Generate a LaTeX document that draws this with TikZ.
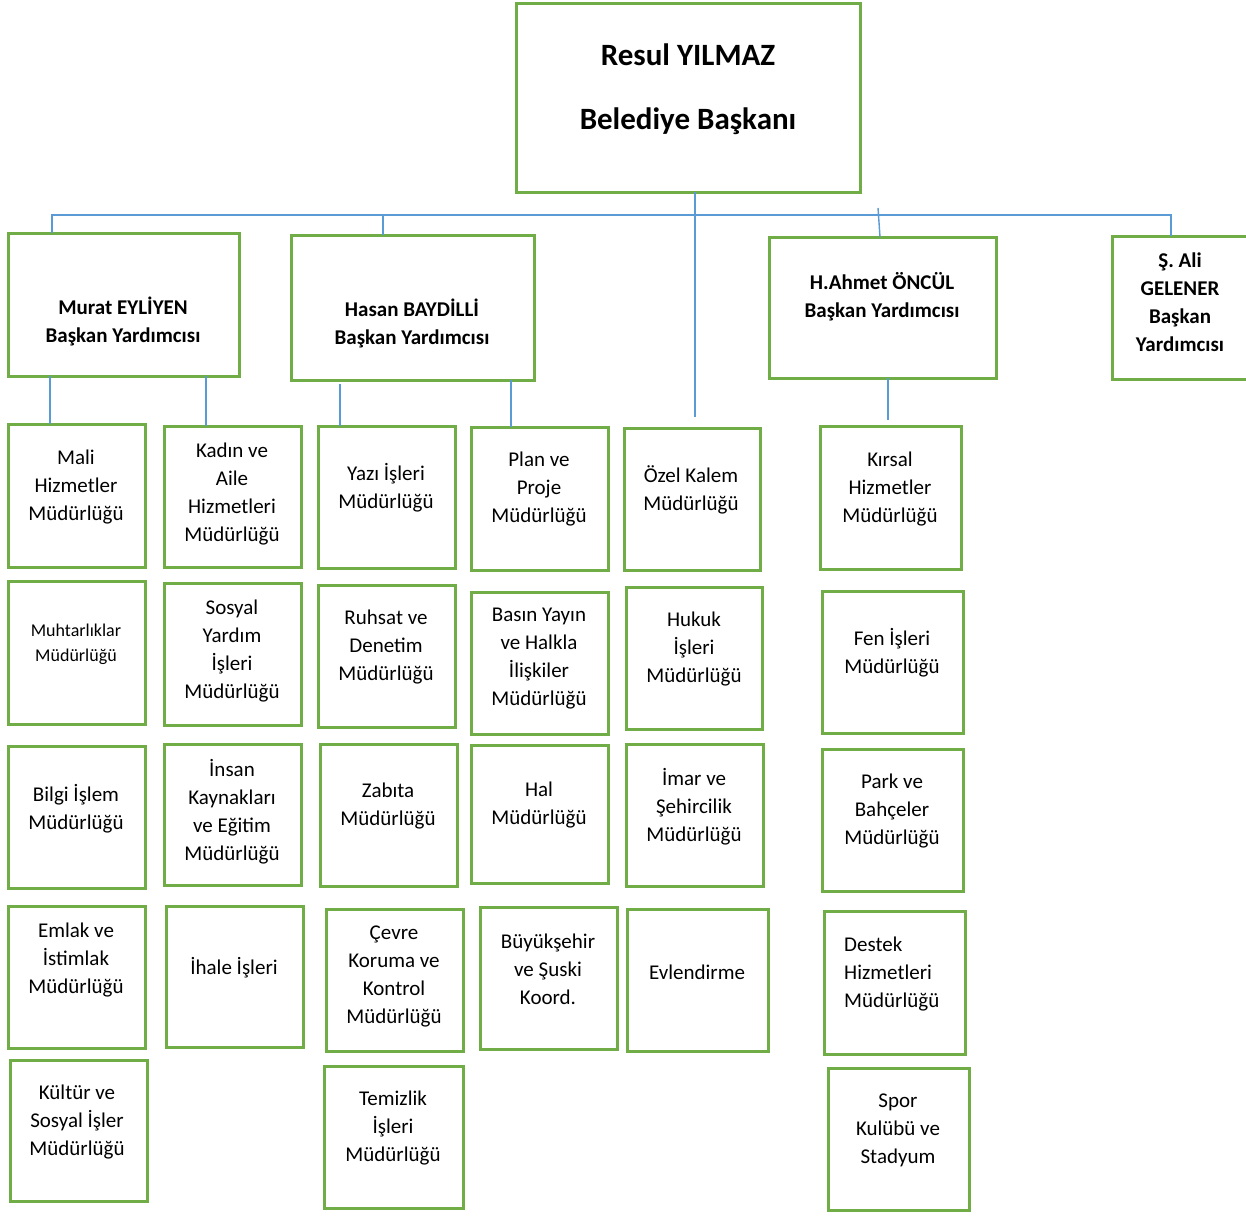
\documentclass[tikz,border=0pt]{standalone}
\usepackage{fontspec}
\setmainfont{Carlito}
\definecolor{boxgreen}{RGB}{112,173,71}
\definecolor{linkblue}{RGB}{91,155,213}
\tikzset{
  ubox/.style={draw=boxgreen, line width=3pt, fill=white, inner sep=0pt, outer sep=0pt},
  txt/.style={align=center, inner sep=0pt, yshift=-3pt, font=\fontsize{21}{28}\selectfont},
  btxt/.style={align=center, inner sep=0pt, yshift=-2pt, font=\fontsize{21}{28}\selectfont\bfseries},
  conn/.style={draw=linkblue, line width=1.4pt}
}
\newcommand\ubx[8]{%
  \node[ubox, minimum width={(#4)-(#2)}, minimum height={(#5)-(#3)}] (#1) at ({((#2)+(#4))/2},{((#3)+(#5))/2}) {};
  \node[txt] (#1t) at (#6,#7) {#8};
}
\newcommand\bbx[8]{%
  \node[ubox, minimum width={(#4)-(#2)}, minimum height={(#5)-(#3)}] (#1) at ({((#2)+(#4))/2},{((#3)+(#5))/2}) {};
  \node[btxt] (#1t) at (#6,#7) {#8};
}
\begin{document}
\begin{tikzpicture}[x=1pt,y=-1pt]
\useasboundingbox[fill=white] (0,0) rectangle (1246,1215);

\coordinate (hl) at (52,215);
\coordinate (hr) at (1171,215);
\coordinate (ctop) at (695,192);
\coordinate (cend) at (695,417);
\coordinate (ahs) at (878,208);
\coordinate (yzs) at (340,384);

% top
\node[ubox, minimum width=344, minimum height=188] (top) at (688,98) {};
\node[align=center, inner sep=0pt, font=\fontsize{31}{64}\selectfont\bfseries] (topt) at (688,89) {Resul YILMAZ\\Belediye Başkanı};

% vice presidents
\bbx{murat}{8}{233}{239}{376}{123}{319}{Murat EYLİYEN\\Başkan Yardımcısı}
\bbx{hasan}{291}{235}{534}{380}{412}{321}{Hasan BAYDİLLİ\\Başkan Yardımcısı}
\bbx{ahmet}{769}{237}{996}{378}{882}{295}{H.Ahmet ÖNCÜL\\Başkan Yardımcısı}
\bbx{ali}{1112}{236}{1254}{379}{1180}{300}{Ş. Ali\\GELENER\\Başkan\\Yardımcısı}

% column 1
\ubx{mali}{8}{424}{145}{567}{76}{484}{Mali\\Hizmetler\\Müdürlüğü}
\node[ubox, minimum width=137, minimum height=143] (muh) at (76.5,653) {};
\node[txt, font=\fontsize{18}{25}\selectfont] (muht) at (76,641) {Muhtarlıklar\\Müdürlüğü};
\ubx{bilgi}{8}{746}{145}{888}{76}{806}{Bilgi İşlem\\Müdürlüğü}
\ubx{emlak}{8}{906}{145}{1048}{76}{957}{Emlak ve\\İstimlak\\Müdürlüğü}
\ubx{kultur}{10}{1060}{147}{1201}{77}{1119}{Kültür ve\\Sosyal İşler\\Müdürlüğü}

% column 2
\ubx{kadin}{164}{426}{301}{567}{232}{491}{Kadın ve\\Aile\\Hizmetleri\\Müdürlüğü}
\ubx{sosyal}{164}{583}{301}{725}{232}{648}{Sosyal\\Yardım\\İşleri\\Müdürlüğü}
\ubx{insan}{164}{744}{301}{885}{232}{809}{İnsan\\Kaynakları\\ve Eğitim\\Müdürlüğü}
\ubx{ihale}{166}{906}{303}{1047}{234}{965}{İhale İşleri}

% column 3
\ubx{yazi}{318}{426}{455}{568}{386}{485}{Yazı İşleri\\Müdürlüğü}
\ubx{ruhsat}{318}{585}{455}{727}{386}{644}{Ruhsat ve\\Denetim\\Müdürlüğü}
\ubx{zabita}{320}{744}{457}{886}{388}{803}{Zabıta\\Müdürlüğü}
\ubx{cevre}{326}{909}{463}{1051}{394}{973}{Çevre\\Koruma ve\\Kontrol\\Müdürlüğü}
\ubx{temiz}{324}{1066}{463}{1208}{393}{1125}{Temizlik\\İşleri\\Müdürlüğü}

% column 4
\ubx{plan}{471}{427}{608}{570}{539}{486}{Plan ve\\Proje\\Müdürlüğü}
\ubx{basin}{471}{592}{608}{734}{539}{656}{Basın Yayın\\ve Halkla\\İlişkiler\\Müdürlüğü}
\ubx{hal}{471}{745}{608}{883}{539}{802}{Hal\\Müdürlüğü}
\ubx{buyuk}{480}{907}{617}{1049}{548}{966}{Büyükşehir\\ve Şuski\\Koord.}

% column 5
\ubx{ozel}{624}{428}{760}{570}{691}{487}{Özel Kalem\\Müdürlüğü}
\ubx{hukuk}{626}{587}{762}{729}{694}{646}{Hukuk\\İşleri\\Müdürlüğü}
\ubx{imar}{626}{744}{763}{886}{694}{804}{İmar ve\\Şehircilik\\Müdürlüğü}
\ubx{evlen}{627}{909}{768}{1051}{697}{969}{Evlendirme}

% column 6
\ubx{kirsal}{820}{426}{961}{569}{890}{486}{Kırsal\\Hizmetler\\Müdürlüğü}
\ubx{fen}{822}{591}{963}{733}{892}{650}{Fen İşleri\\Müdürlüğü}
\ubx{park}{822}{749}{963}{891}{892}{808}{Park ve\\Bahçeler\\Müdürlüğü}
\node[ubox, minimum width=141, minimum height=143] (destek) at (894.5,983) {};
\node[txt, align=left, anchor=west] (destekt) at (844,971) {Destek\\Hizmetleri\\Müdürlüğü};
\ubx{spor}{828}{1068}{969}{1210}{898}{1127}{Spor\\Kulübü ve\\Stadyum}

% connector lines
\draw[conn] (murat.north -| hl) -- (hl) -- (hr) -- (ali.north -| hr);
\draw[conn] (hasan.north -| 383,0) -- (383,215);
\draw[conn] (ahs) -- (ahmet.north -| 880,0);
\draw[conn] (top.south -| ctop) -- (cend);
\draw[conn] (murat.south -| 50,0) -- (mali.north -| 50,0);
\draw[conn] (murat.south -| 206,0) -- (kadin.north -| 206,0);
\draw[conn] (yzs) -- (yazi.north -| yzs);
\draw[conn] (hasan.south -| 511,0) -- (plan.north -| 511,0);
\draw[conn] (ahmet.south -| 888,0) -- (888,420);
\end{tikzpicture}
\end{document}
